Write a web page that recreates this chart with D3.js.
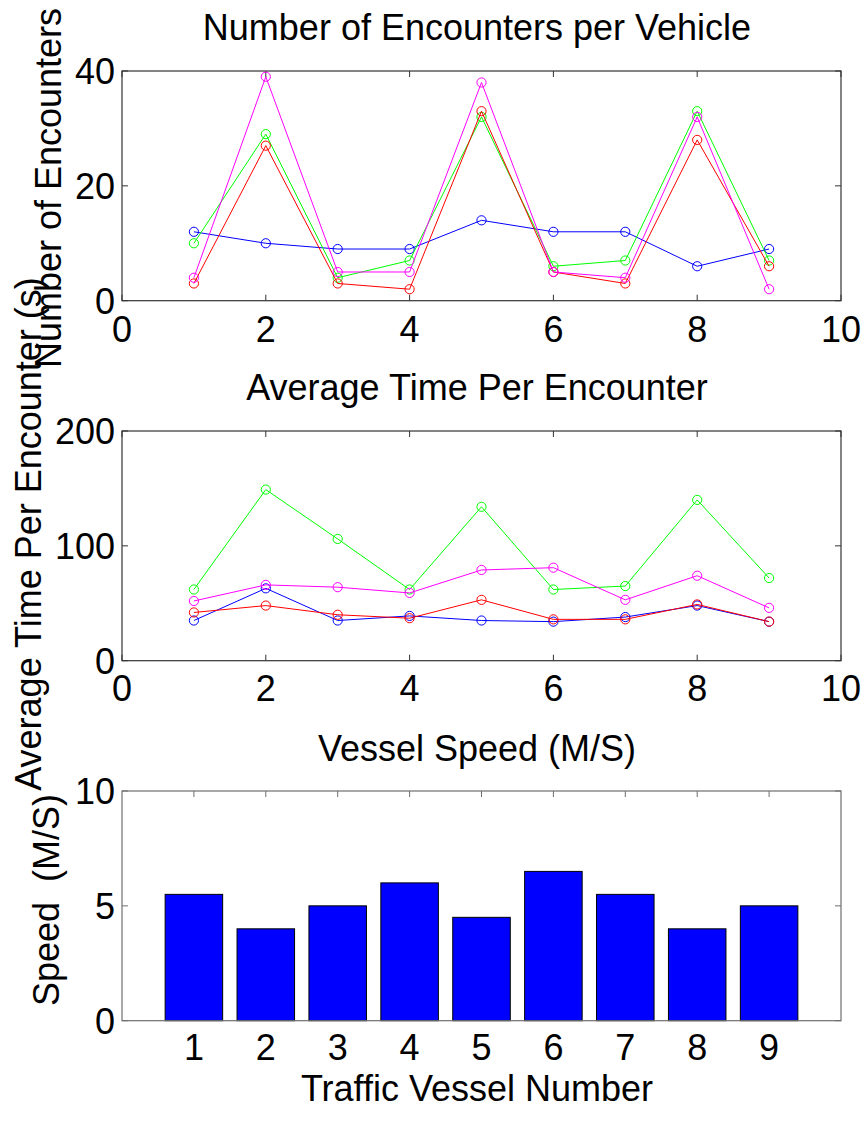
<!DOCTYPE html>
<html>
<head>
<meta charset="utf-8">
<script src="https://cdn.jsdelivr.net/npm/d3@7"></script>
<style>
  html, body { margin: 0; padding: 0; background: #fff; }
  svg text { font-family: "Liberation Sans", Arial, Helvetica, sans-serif; fill: #000; }
</style>
</head>
<body>
<svg id="fig" width="866" height="1121"></svg>
<script>
// Traffic vessel indices (x positions of every series)
const vessels = [1, 2, 3, 4, 5, 6, 7, 8, 9];

// Number of encounters per vehicle, one array per run
const encBlue    = [12, 10, 9, 9, 14, 12, 12, 6, 9];
const encGreen   = [10, 29, 4, 7, 32, 6, 7, 33, 7];
const encRed     = [3, 27, 3, 2, 33, 5, 3, 28, 6];
const encMagenta = [4, 39, 5, 5, 38, 5, 4, 32, 2];

// Average time per encounter (s)
const timeBlue    = [35, 63, 35, 39, 35, 34, 38, 48, 34];
const timeGreen   = [62, 149, 106, 62, 134, 62, 65, 140, 72];
const timeRed     = [42, 48, 40, 37, 53, 36, 36, 49, 34];
const timeMagenta = [52, 66, 64, 59, 79, 81, 53, 74, 46];

// Vessel speed (M/S)
const speeds = [5.5, 4, 5, 6, 4.5, 6.5, 5.5, 4, 5];

// Tick values
const xTicksLine = [0, 2, 4, 6, 8, 10];
const yTicksEnc  = [0, 20, 40];
const yTicksTime = [0, 100, 200];
const yTicksSpd  = [0, 5, 10];

const svg = d3.select("#fig");
const FS = 36;
const left = 122, right = 841;
const tickLen = 6;

function panel(opts) {
  const x = d3.scaleLinear().domain([0, 10]).range([left, right]);
  const y = d3.scaleLinear().domain(opts.yDomain).range([opts.bottom, opts.top]);
  const g = svg.append("g");
  const boxColor = opts.boxColor || "#333333";

  // tick marks pointing inward on all four sides
  const xt = opts.xTickMarks;
  g.selectAll(".xtb").data(xt).enter().append("line")
    .attr("x1", d => x(d)).attr("x2", d => x(d))
    .attr("y1", opts.bottom).attr("y2", opts.bottom - tickLen)
    .attr("stroke", boxColor).attr("stroke-width", 1);
  g.selectAll(".xtt").data(xt).enter().append("line")
    .attr("x1", d => x(d)).attr("x2", d => x(d))
    .attr("y1", opts.top).attr("y2", opts.top + tickLen)
    .attr("stroke", boxColor).attr("stroke-width", 1);
  g.selectAll(".ytl").data(opts.yTicks).enter().append("line")
    .attr("x1", left).attr("x2", left + tickLen)
    .attr("y1", d => y(d)).attr("y2", d => y(d))
    .attr("stroke", boxColor).attr("stroke-width", 1);
  g.selectAll(".ytr").data(opts.yTicks).enter().append("line")
    .attr("x1", right).attr("x2", right - tickLen)
    .attr("y1", d => y(d)).attr("y2", d => y(d))
    .attr("stroke", boxColor).attr("stroke-width", 1);

  // tick labels
  g.selectAll(".xl").data(opts.xLabels).enter().append("text")
    .attr("x", d => x(d)).attr("y", opts.xLabelY)
    .attr("text-anchor", "middle").attr("font-size", FS)
    .text(d => d);
  g.selectAll(".yl").data(opts.yTicks).enter().append("text")
    .attr("x", 115).attr("y", d => y(d))
    .attr("dy", "0.36em")
    .attr("text-anchor", "end").attr("font-size", FS)
    .text(d => d);

  return { g, x, y, boxColor };
}

function frame(p, opts) {
  p.g.append("rect")
    .attr("x", left).attr("y", opts.top)
    .attr("width", right - left).attr("height", opts.bottom - opts.top)
    .attr("fill", "none").attr("stroke", p.boxColor).attr("stroke-width", 1.2);
}

function drawSeries(p, values, color) {
  const line = d3.line().x((d, i) => p.x(vessels[i])).y(d => p.y(d));
  p.g.append("path").datum(values)
    .attr("d", line).attr("fill", "none")
    .attr("stroke", color).attr("stroke-width", 1);
  p.g.selectAll(null).data(values).enter().append("circle")
    .attr("cx", (d, i) => p.x(vessels[i])).attr("cy", d => p.y(d))
    .attr("r", 4.6).attr("fill", "none")
    .attr("stroke", color).attr("stroke-width", 1);
}

// ---- Panel 1: number of encounters ----
const o1 = { yDomain: [0, 40], top: 71, bottom: 300.7, xTickMarks: xTicksLine,
             yTicks: yTicksEnc, xLabels: xTicksLine, xLabelY: 342 };
const p1 = panel(o1);
frame(p1, o1);
drawSeries(p1, encBlue, "#0000ff");
drawSeries(p1, encGreen, "#00ff00");
drawSeries(p1, encRed, "#ff0000");
drawSeries(p1, encMagenta, "#ff00ff");
svg.append("text").attr("x", 477).attr("y", 40).attr("text-anchor", "middle")
  .attr("font-size", FS).text("Number of Encounters per Vehicle");
svg.append("text").attr("transform", "translate(61,188) rotate(-90)")
  .attr("text-anchor", "middle").attr("font-size", FS).text("Number of Encounters");

// ---- Panel 2: average time per encounter ----
const o2 = { yDomain: [0, 200], top: 431, bottom: 660.7, xTickMarks: xTicksLine,
             yTicks: yTicksTime, xLabels: xTicksLine, xLabelY: 701 };
const p2 = panel(o2);
frame(p2, o2);
drawSeries(p2, timeBlue, "#0000ff");
drawSeries(p2, timeGreen, "#00ff00");
drawSeries(p2, timeRed, "#ff0000");
drawSeries(p2, timeMagenta, "#ff00ff");
svg.append("text").attr("x", 477).attr("y", 400).attr("text-anchor", "middle")
  .attr("font-size", FS).text("Average Time Per Encounter");
svg.append("text").attr("transform", "translate(41,534) rotate(-90)")
  .attr("text-anchor", "middle").attr("font-size", FS).text("Average Time Per Encounter (s)");

// ---- Panel 3: vessel speed bars ----
const o3 = { yDomain: [0, 10], top: 791, bottom: 1020.7, xTickMarks: vessels,
             yTicks: yTicksSpd, xLabels: vessels, xLabelY: 1060, boxColor: "#6e6e6e" };
const p3 = panel(o3);
const barW = p3.x(0.8) - p3.x(0);
p3.g.selectAll(".bar").data(speeds).enter().append("rect")
  .attr("x", (d, i) => p3.x(vessels[i]) - barW / 2)
  .attr("y", d => p3.y(d))
  .attr("width", barW)
  .attr("height", d => p3.y(0) - p3.y(d))
  .attr("fill", "#0000ff").attr("stroke", "#000").attr("stroke-width", 1);
frame(p3, o3);
svg.append("text").attr("x", 477).attr("y", 761).attr("text-anchor", "middle")
  .attr("font-size", FS).text("Vessel Speed (M/S)");
svg.append("text").attr("x", 477).attr("y", 1101).attr("text-anchor", "middle")
  .attr("font-size", FS).text("Traffic Vessel Number");
svg.append("text").attr("transform", "translate(59,900) rotate(-90)")
  .attr("text-anchor", "middle").attr("font-size", FS)
  .attr("xml:space", "preserve").style("white-space", "pre").text("Speed  (M/S)");
</script>
</body>
</html>
